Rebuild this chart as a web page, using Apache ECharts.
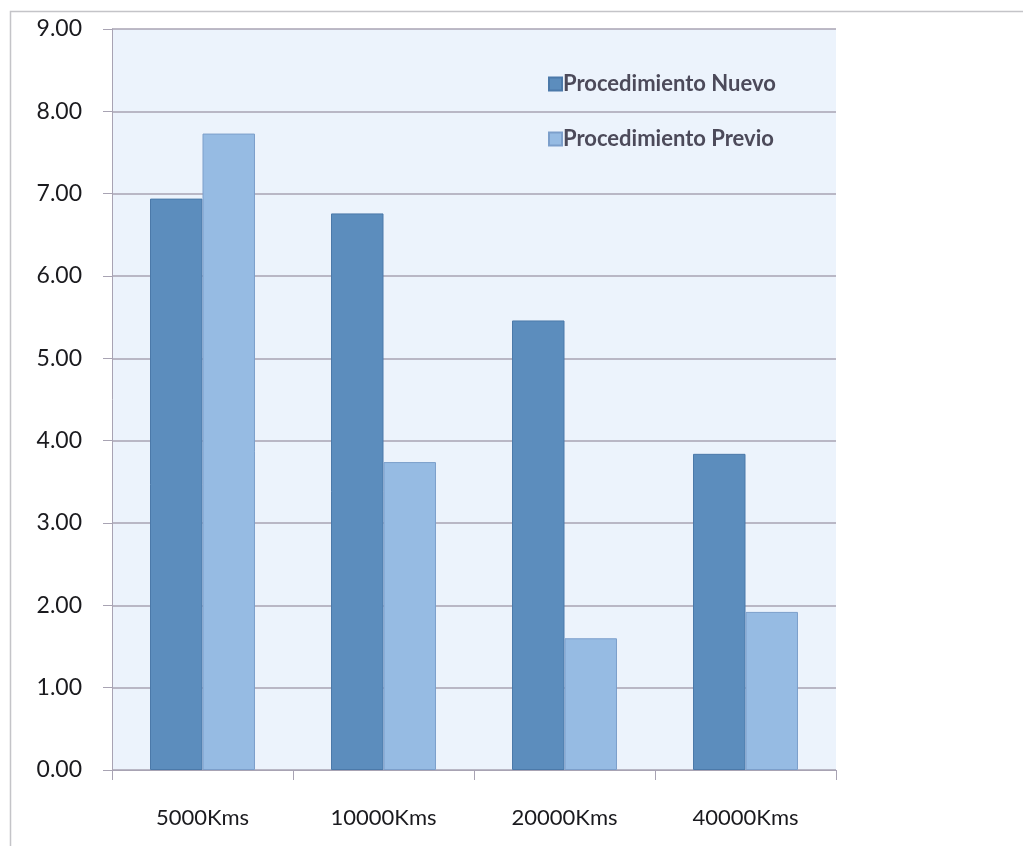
<!DOCTYPE html>
<html>
<head>
<meta charset="utf-8">
<script src="https://cdn.jsdelivr.net/npm/echarts@6/dist/echarts.min.js"></script>
<style>
  html, body { margin: 0; padding: 0; background: #ffffff; }
  #chart { width: 1023px; height: 846px; }
</style>
</head>
<body>
<div id="chart"></div>
<script>
// Distances tested
var categories = ['5000Kms', '10000Kms', '20000Kms', '40000Kms'];
// Values per procedure
var nuevo = [6.94, 6.76, 5.46, 3.84];
var previo = [7.73, 3.74, 1.60, 1.92];
var seriesNames = ['Procedimiento Nuevo', 'Procedimiento Previo'];
// Value axis range
var yMin = 0, yMax = 9, yStep = 1;

var chart = echarts.init(document.getElementById('chart'), null, { renderer: 'canvas' });
var font = 'Lato, "Open Sans", sans-serif';
var gridColor = '#a8a3b3';

chart.setOption({
  animation: false,
  backgroundColor: '#ffffff',
  graphic: [
    {
      type: 'rect',
      shape: { x: 10.5, y: 11.5, width: 1030, height: 850 },
      style: { fill: 'none', stroke: '#c4c4c8', lineWidth: 1.5 },
      z: 0
    }
  ],
  grid: {
    left: 112, right: 187, top: 29, bottom: 76,
    show: true, backgroundColor: '#ecf3fc', borderWidth: 0
  },
  legend: {
    orient: 'vertical',
    left: 543, top: 68,
    itemWidth: 13, itemHeight: 13,
    itemGap: 33,
    icon: 'rect',
    textStyle: { fontFamily: font, fontSize: 22, fontWeight: 'bold', color: '#4c4a5a', padding: [0, 0, 0, -4] },
    data: seriesNames
  },
  xAxis: {
    type: 'category',
    data: categories,
    axisLine: { show: true, lineStyle: { color: gridColor, width: 1 } },
    axisTick: { show: true, length: 10, alignWithLabel: false, lineStyle: { color: gridColor } },
    axisLabel: { fontFamily: font, fontSize: 22, color: '#1a1a1e', margin: 37 },
    splitLine: { show: false }
  },
  yAxis: {
    type: 'value',
    min: yMin, max: yMax, interval: yStep,
    axisLine: { show: true, lineStyle: { color: gridColor, width: 1 } },
    axisTick: { show: true, length: 9, lineStyle: { color: gridColor } },
    axisLabel: {
      fontFamily: font, fontSize: 23, color: '#1a1a1e', margin: 30,
      formatter: function (v) { return v.toFixed(2); }
    },
    splitLine: { show: true, lineStyle: { color: gridColor, width: 1.5 } }
  },
  series: [
    {
      name: seriesNames[0],
      type: 'bar',
      data: nuevo,
      barGap: '0%',
      barCategoryGap: '42%',
      itemStyle: { color: '#5c8dbd', borderColor: '#4b79a9', borderWidth: 1 }
    },
    {
      name: seriesNames[1],
      type: 'bar',
      data: previo,
      barGap: '0%',
      barCategoryGap: '42%',
      itemStyle: { color: '#96bbe3', borderColor: '#7c9fcb', borderWidth: 1 }
    }
  ]
});
</script>
</body>
</html>
